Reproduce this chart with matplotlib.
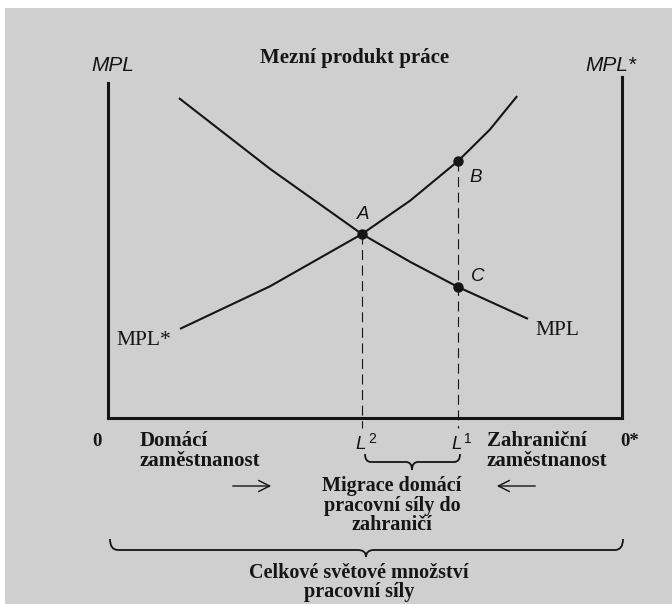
import matplotlib.pyplot as plt
from matplotlib.path import Path
from matplotlib.patches import PathPatch, Rectangle

# labour axis: 0 = domestic origin (0), 100 = foreign origin (0*)
# marginal product of labour on the vertical axis
mpl_x = [13.8, 31.5, 49.4, 58.8, 68.1, 81.7]
mpl_y = [95.5, 74.4, 54.9, 46.6, 39.1, 29.6]
mpl_star_x = [14.0, 31.5, 49.4, 58.8, 68.1, 74.3, 79.6]
mpl_star_y = [26.6, 39.3, 54.9, 64.9, 76.7, 86.1, 96.1]

point_names = ['A', 'B', 'C']
point_x = [49.4, 68.1, 68.1]
point_y = [54.9, 76.7, 39.1]
L2, L1 = 49.4, 68.1

SERIF = 'Liberation Serif'
SANS = 'Liberation Sans'
INK = '#151515'

fig = plt.figure(figsize=(6.72, 6.04), dpi=100)
fig.patch.set_facecolor('white')

# overlay in pixel coordinates for frame, labels, braces
ov = fig.add_axes([0, 0, 1, 1])
ov.set_xlim(0, 672)
ov.set_ylim(604, 0)
ov.axis('off')
ov.add_patch(Rectangle((5, 8), 667, 596, color='#cfcfcf', lw=0))

# data axes for the curves
ax = fig.add_axes([108 / 672, (604 - 418) / 604, 514 / 672, 335 / 604])
ax.set_xlim(0, 100)
ax.set_ylim(0, 100)
ax.patch.set_alpha(0)
ax.axis('off')

# frame (domestic axis, foreign axis, world labour)
ov.plot([108, 108, 622, 622], [83, 418, 418, 77], color=INK, lw=2.2,
        solid_joinstyle='miter')

ax.plot(mpl_x, mpl_y, color=INK, lw=1.5, solid_capstyle='butt',
        solid_joinstyle='round')
ax.plot(mpl_star_x, mpl_star_y, color=INK, lw=1.5, solid_capstyle='butt',
        solid_joinstyle='round')

for lx, top in [(L2, point_y[0]), (L1, point_y[1])]:
    ax.plot([lx, lx], [top, -3], color=INK, lw=0.8, dashes=(9, 5),
            clip_on=False)

ax.plot(point_x, point_y, 'o', color=INK, ms=6.5, clip_on=False)

# text labels
def t(x, y, s, **kw):
    kw.setdefault('family', SERIF)
    kw.setdefault('fontsize', 14.5)
    kw.setdefault('fontweight', 'bold')
    kw.setdefault('va', 'baseline')
    ov.text(x, y, s, color=INK, **kw)

t(355, 63, 'Mezní produkt práce', ha='center', fontsize=15)
t(113, 71, 'MPL', ha='center', family=SANS, style='italic',
  fontweight='normal', fontsize=15)
t(611, 71, 'MPL*', ha='center', family=SANS, style='italic',
  fontweight='normal', fontsize=15)

for name, (px, py) in zip(point_names, [(363, 219), (476, 182), (478, 281)]):
    t(px, py, name, ha='center', family=SANS, style='italic',
      fontweight='normal', fontsize=13.5)

t(144, 345, 'MPL*', ha='center', fontweight='normal', fontsize=15.5)
t(557, 335, 'MPL', ha='center', fontweight='normal', fontsize=15.5)

t(97, 446, '0', ha='center', fontsize=13.5)
t(630, 446, '0*', ha='center', fontsize=13.5)
t(140, 446, 'Domácí', fontsize=15)
t(140, 466, 'zaměstnanost', fontsize=15)
t(487, 446, 'Zahraniční', fontsize=15)
t(487, 466, 'zaměstnanost', fontsize=15)

for lx, sup in [(361, '2'), (457, '1')]:
    t(lx, 449, 'L', ha='center', family=SANS, style='italic',
      fontweight='normal', fontsize=13.5)
    t(lx + 11, 443, sup, ha='center', family=SANS, fontweight='normal',
      fontsize=10)

for i, line in enumerate(['Migrace domácí', 'pracovní síly do', 'zahraničí']):
    t(392, 491 + i * 19.5, line, ha='center')
for i, line in enumerate(['Celkové světové množství', 'pracovní síly']):
    t(359, 578 + i * 19.5, line, ha='center')

# arrows
ov.annotate('', xy=(274, 486), xytext=(230, 486),
            arrowprops=dict(arrowstyle='->', color=INK, lw=1.0,
                            mutation_scale=20))
ov.annotate('', xy=(494, 486), xytext=(538, 486),
            arrowprops=dict(arrowstyle='->', color=INK, lw=1.0,
                            mutation_scale=20))

# braces
def brace(x0, x1, xc, ytop, ymid, ytip, r):
    verts = [(x0, ytop), (x0, ymid), (x0 + r, ymid),
             (xc - r, ymid), (xc, ymid), (xc, ytip),
             (xc, ymid), (xc + r, ymid),
             (x1 - r, ymid), (x1, ymid), (x1, ytop)]
    codes = [Path.MOVETO, Path.CURVE3, Path.CURVE3,
             Path.LINETO, Path.CURVE3, Path.CURVE3,
             Path.CURVE3, Path.CURVE3,
             Path.LINETO, Path.CURVE3, Path.CURVE3]
    ov.add_patch(PathPatch(Path(verts, codes), fill=False, ec=INK, lw=1.3))

brace(365, 460, 412, 454, 462, 470, 6)
brace(110, 623, 366, 539, 550, 557, 8)

fig.savefig('out.png', dpi=100, facecolor=fig.get_facecolor())
